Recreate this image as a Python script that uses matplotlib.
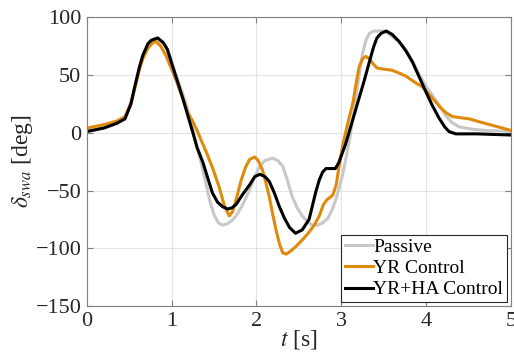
import numpy as np
import matplotlib
matplotlib.use("Agg")
import matplotlib.pyplot as plt

# time / angle samples (t [s], delta_swa [deg])
t_passive = [0.0, 0.2, 0.35, 0.45, 0.52, 0.57, 0.62, 0.66, 0.72, 0.8, 0.85, 0.92, 0.98, 1.05, 1.12,
             1.19, 1.25, 1.3, 1.36, 1.41, 1.45, 1.5, 1.55, 1.6, 1.65, 1.71, 1.76, 1.84, 1.92, 1.98,
             2.04, 2.1, 2.19, 2.25, 2.31, 2.36, 2.42, 2.48, 2.54, 2.6, 2.66, 2.72, 2.78, 2.84, 2.89,
             2.94, 2.98, 3.02, 3.06, 3.1, 3.15, 3.2, 3.25, 3.29, 3.33, 3.39, 3.49, 3.55, 3.6, 3.68,
             3.76, 3.84, 3.92, 4.0, 4.07, 4.15, 4.23, 4.3, 4.39, 4.55, 4.7, 5.0]
v_passive = [2, 5, 9, 13, 25, 40, 55, 65, 75, 80, 80, 76, 66, 50, 36,
             20, 3, -12, -30, -46, -59, -71, -78, -80, -79, -76, -72, -62, -49, -38,
             -29, -24, -22, -24, -29, -40, -55, -65, -72, -77, -80, -80, -78, -74, -67,
             -57, -46, -35, -20, -5, 18, 45, 68, 80, 86, 88, 88, 86, 83, 79,
             72, 62, 50, 40, 33, 24, 15, 9, 5, 3, 2, 1]

t_yr = [0.0, 0.2, 0.35, 0.45, 0.52, 0.57, 0.62, 0.66, 0.72, 0.78, 0.81, 0.87, 0.93, 1.0, 1.07,
        1.13, 1.19, 1.24, 1.3, 1.35, 1.41, 1.48, 1.56, 1.62, 1.68, 1.72, 1.77, 1.82, 1.87, 1.92,
        1.98, 2.02, 2.07, 2.11, 2.15, 2.19, 2.23, 2.27, 2.31, 2.35, 2.41, 2.47, 2.55, 2.62, 2.68,
        2.74, 2.79, 2.83, 2.9, 2.94, 2.98, 3.02, 3.06, 3.1, 3.14, 3.18, 3.21, 3.25, 3.29, 3.33,
        3.37, 3.42, 3.5, 3.6, 3.7, 3.76, 3.82, 3.88, 3.95, 4.0, 4.06, 4.12, 4.18, 4.24, 4.31,
        4.4, 4.51, 4.6, 4.7, 4.85, 5.0]
v_yr = [4, 7, 10, 14, 26, 40, 55, 64, 73, 78, 79, 75, 67, 55, 42,
        30, 17, 11, 2, -7, -17, -30, -47, -63, -72, -68, -55, -41, -30, -23,
        -21, -24, -32, -43, -55, -70, -84, -96, -104, -105, -102, -98, -92, -86, -80,
        -72, -62, -58, -54, -45, -26, -10, 3, 15, 27, 45, 57, 64, 66, 64,
        60, 56, 55, 54, 51, 49, 46, 43, 40, 36, 31, 26, 21, 17, 14,
        13, 12, 10, 8, 5, 2]

t_yrha = [0.0, 0.2, 0.35, 0.45, 0.52, 0.565, 0.62, 0.66, 0.72, 0.76, 0.835, 0.9, 0.95, 1.0, 1.07,
          1.13, 1.19, 1.25, 1.3, 1.37, 1.42, 1.48, 1.54, 1.6, 1.66, 1.71, 1.76, 1.84, 1.92, 1.98,
          2.04, 2.1, 2.15, 2.21, 2.27, 2.33, 2.39, 2.46, 2.54, 2.62, 2.66, 2.7, 2.74, 2.78, 2.82,
          2.93, 2.97, 3.01, 3.05, 3.09, 3.15, 3.21, 3.27, 3.33, 3.38, 3.42, 3.47, 3.53, 3.6, 3.68,
          3.76, 3.84, 3.92, 4.0, 4.07, 4.15, 4.22, 4.27, 4.35, 4.6, 5.0]
v_yrha = [1, 4, 8, 12, 25, 40, 57, 67, 77, 80, 82, 78, 72, 60, 44,
          30, 15, 0, -13, -26, -38, -52, -60, -64, -66, -65, -62, -53, -45, -38,
          -36, -38, -42, -52, -64, -74, -82, -87, -84, -75, -63, -51, -41, -34, -31,
          -31, -26, -18, -10, 0, 15, 30, 45, 61, 74, 82, 86, 88, 85, 79,
          71, 61, 48, 35, 24, 13, 5, 1, -1, -1, -2]

plt.rcParams['font.family'] = ['Liberation Serif', 'DejaVu Serif']
plt.rcParams['mathtext.fontset'] = 'stix'

fig = plt.figure(figsize=(5.14, 3.64), dpi=100)
ax = fig.add_axes([0.169, 0.159, 0.825, 0.794])

ax.plot(t_passive, v_passive, color='#c8c8c8', lw=2.2, label='Passive')
ax.plot(t_yr, v_yr, color='#e08a0c', lw=2.2, label='YR Control')
ax.plot(t_yrha, v_yrha, color='black', lw=2.2, label='YR+HA Control')

ax.set_xlim(0, 5)
ax.set_ylim(-150, 100)
ax.set_xticks([0, 1, 2, 3, 4, 5])
ax.set_yticks([-150, -100, -50, 0, 50, 100])
ax.grid(True, color='#e4e4e4', lw=0.8)
ax.set_axisbelow(True)
ax.tick_params(direction='in', top=True, right=True, length=4, labelsize=16,
               colors='#808080', labelcolor='#262626', pad=4)
for s in ax.spines.values():
    s.set_color('#808080')
    s.set_linewidth(0.8)

ax.set_xlabel(r'$t$ [s]', fontsize=17, color='#262626', labelpad=-2)
ax.set_ylabel(r'$\delta_{swa}$ [deg]', fontsize=17, color='#262626', labelpad=0)

leg = ax.legend(loc='lower right', fontsize=14, handlelength=1.45, handletextpad=0.0,
                borderpad=0.2, labelspacing=0.18, borderaxespad=0.2, fancybox=False,
                framealpha=1)
leg.get_frame().set_edgecolor('#262626')
leg.get_frame().set_linewidth(0.8)

fig.savefig('out.png', dpi=100)
